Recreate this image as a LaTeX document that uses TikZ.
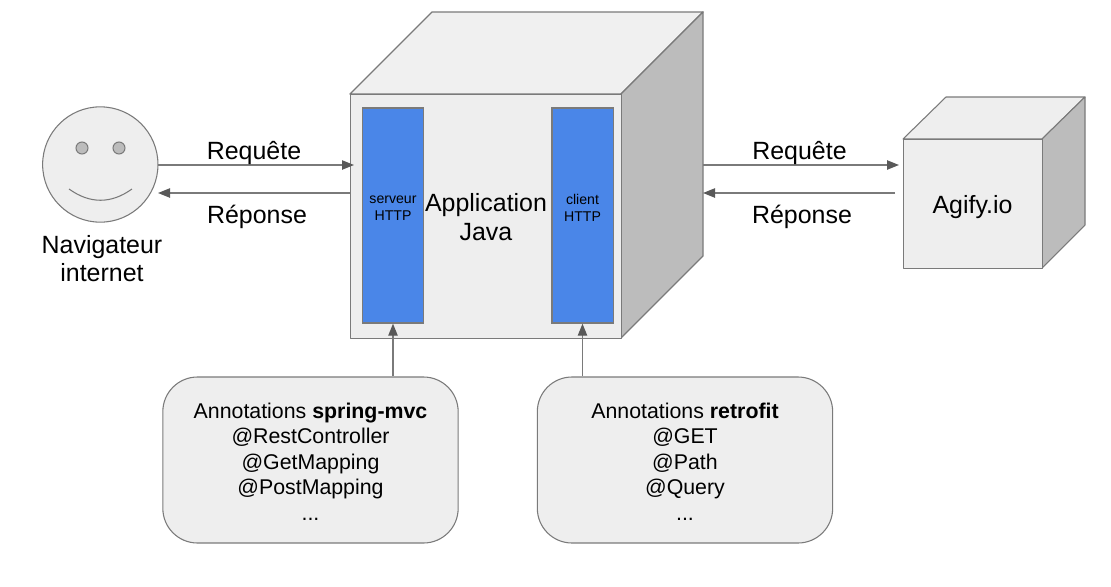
\documentclass[tikz,border=0pt]{standalone}
\usepackage{fontspec}
\setmainfont{Liberation Sans}
\usetikzlibrary{arrows.meta}
\definecolor{linegray}{HTML}{7A7A7A}
\definecolor{arrowgray}{HTML}{595959}
\definecolor{facegray}{HTML}{EEEEEE}
\definecolor{sidegray}{HTML}{BCBCBC}
\definecolor{httpblue}{HTML}{4A86E8}
\tikzset{
  face/.style={draw=linegray,fill=facegray,line width=1pt,line join=round},
  sideface/.style={draw=linegray,fill=sidegray,line width=1pt,line join=round},
  blockbox/.style={draw=linegray,fill=httpblue,line width=1pt,minimum width=46pt,minimum height=161.25pt,inner sep=0pt},
  smalltext/.style={inner sep=0pt,align=center,font=\fontsize{10.6}{12.75}\selectfont},
  notebox/.style={draw=linegray,fill=facegray,line width=0.8pt,rounded corners=26pt,minimum width=221.5pt,minimum height=124.5pt,inner sep=0pt},
  notetext/.style={inner sep=0pt,align=center,font=\fontsize{16}{19.1}\selectfont},
  big/.style={inner sep=0pt,align=center,font=\fontsize{18.7}{21.5}\selectfont},
  flow/.style={draw=linegray,line width=1pt,-{Triangle[length=9pt,width=7pt,color=arrowgray]}},
}
\begin{document}
\begin{tikzpicture}[x=0.75pt,y=-0.75pt]
\useasboundingbox (0,0) rectangle (1111,586);
% browser
\node[face,circle,minimum size=86.5pt,inner sep=0pt,line width=0.8pt] (face) at (100.3,164.5) {};
\node[draw=linegray,fill=sidegray,circle,minimum size=9pt,inner sep=0pt,line width=0.8pt] (eyeL) at (82,148) {};
\node[draw=linegray,fill=sidegray,circle,minimum size=9pt,inner sep=0pt,line width=0.8pt] (eyeR) at (119,148) {};
\draw[linegray,line width=0.8pt] (69,189) .. controls (90,204) and (111,204) .. (132,189);
\node[big] (nav) at (102,258.5) {Navigateur\\internet};
% main cube
\draw[face,fill=facegray!90!white] (350,94) -- (432,12) -- (703,12) -- (621,94) -- cycle;
\draw[sideface] (621,94) -- (703,12) -- (703,256) -- (621,338) -- cycle;
\node[face,minimum width=203.25pt,minimum height=183pt,inner sep=0pt,anchor=north west] (app) at (350,94) {};
\node[blockbox] (srv) at (393,215.5) {};
\node[blockbox] (cli) at (582.5,215.5) {};
\node[smalltext] (srvtext) at (393,208) {serveur\\HTTP};
\node[smalltext] (clitext) at (582.5,208) {client\\HTTP};
\node[big] (apptext) at (486,217) {Application\\Java};
% remote cube
\draw[face,line width=0.8pt] (903,139) -- (946,97) -- (1085,97) -- (1042,139) -- cycle;
\draw[sideface,line width=0.8pt] (1042,139) -- (1085,97) -- (1085,225) -- (1042,268) -- cycle;
\node[face,line width=0.8pt,minimum width=104.25pt,minimum height=96.75pt,inner sep=0pt,anchor=north west] (agify) at (903,139) {};
\node[big] (agifytext) at (972.5,207) {Agify.io};
% note boxes
\node[notebox] (nmvc) at (310.5,460) {};
\node[notebox] (nret) at (685,460) {};
\node[notetext] (nmvctext) at (310.5,461.5) {Annotations \textbf{spring-mvc}\\@RestController\\@GetMapping\\@PostMapping\\...};
\node[notetext] (nrettext) at (685,461.5) {Annotations \textbf{retrofit}\\@GET\\@Path\\@Query\\...};
% connector ends
\coordinate (faceOut) at (158,165);
\coordinate (faceIn) at (158,193);
\coordinate (appInL) at (354,165);
\coordinate (appOutL) at (350,193);
\coordinate (appOutR) at (703,165);
\coordinate (appInR) at (703,193);
\coordinate (agiIn) at (899,165);
\coordinate (agiOut) at (895,193);
\draw[flow] (faceOut) -- (appInL);
\draw[flow] (appOutL) -- (faceIn);
\draw[flow] (appOutR) -- (agiIn);
\draw[flow] (agiOut) -- (appInR);
\draw[flow] (nmvc.north -| srv.south) -- (srv.south);
\draw[flow] (nret.north -| cli.south) -- (cli.south);
% flow labels
\node[big] (l1) at (254,153) {Requête};
\node[big] (l2) at (257,217) {Réponse};
\node[big] (l3) at (799.5,153) {Requête};
\node[big] (l4) at (802,217) {Réponse};
\end{tikzpicture}
\end{document}
